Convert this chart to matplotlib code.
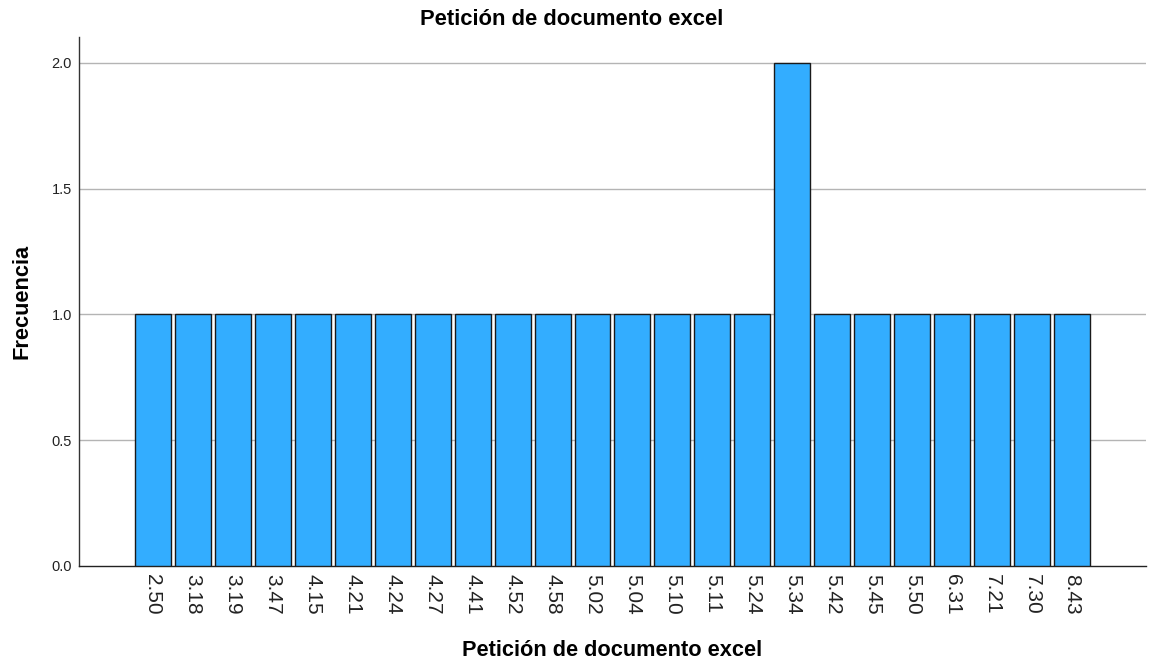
import matplotlib
matplotlib.use("Agg")
import matplotlib.pyplot as plt

categories = ["2.50", "3.18", "3.19", "3.47", "4.15", "4.21", "4.24", "4.27", "4.41", "4.52",
              "4.58", "5.02", "5.04", "5.10", "5.11", "5.24", "5.34", "5.42", "5.45", "5.50",
              "6.31", "7.21", "7.30", "8.43"]
frequencies = [1, 1, 1, 1, 1, 1, 1, 1, 1, 1, 1, 1, 1, 1, 1, 1, 2, 1, 1, 1, 1, 1, 1, 1]
yticks = [0.0, 0.5, 1.0, 1.5, 2.0]

plt.rcParams['font.family'] = ['Liberation Sans', 'DejaVu Sans']

fig = plt.figure(figsize=(11.5, 6.64), dpi=100)
ax = fig.add_axes([0.0687, 0.1476, 0.9278, 0.7967])

x = list(range(len(categories)))
ax.bar(x, frequencies, width=0.9, color="#33adff", edgecolor="#1a1a1a", linewidth=1.0, zorder=3)

ax.set_xlim(-1.85, len(categories) - 1 + 1.85)
ax.set_ylim(0, 2.103)
ax.set_yticks(yticks)
ax.set_yticklabels([f"{v:.1f}" for v in yticks], fontsize=10.5, color="#222222")
ax.set_xticks(x)
ax.set_xticklabels(categories, rotation=270, fontsize=15, color="#222222")
ax.tick_params(axis='x', length=0, pad=6)
ax.tick_params(axis='y', length=0, pad=5)

for v in yticks[1:]:
    ax.axhline(v, color="#b4b4b4", linewidth=1.0, zorder=1)

for s in ["top", "right"]:
    ax.spines[s].set_visible(False)
ax.spines["left"].set_color("#333333")
ax.spines["bottom"].set_color("#222222")
ax.spines["left"].set_linewidth(1.0)
ax.spines["bottom"].set_linewidth(1.0)

fig.text(0.497, 0.971, "Petición de documento excel", ha="center", va="center",
         fontsize=15.8, fontweight="bold")
fig.text(0.532, 0.021, "Petición de documento excel", ha="center", va="center",
         fontsize=15.7, fontweight="bold")
fig.text(0.019, 0.546, "Frecuencia", ha="center", va="center", rotation=90,
         fontsize=15.7, fontweight="bold")

fig.savefig("out.png", dpi=100)
